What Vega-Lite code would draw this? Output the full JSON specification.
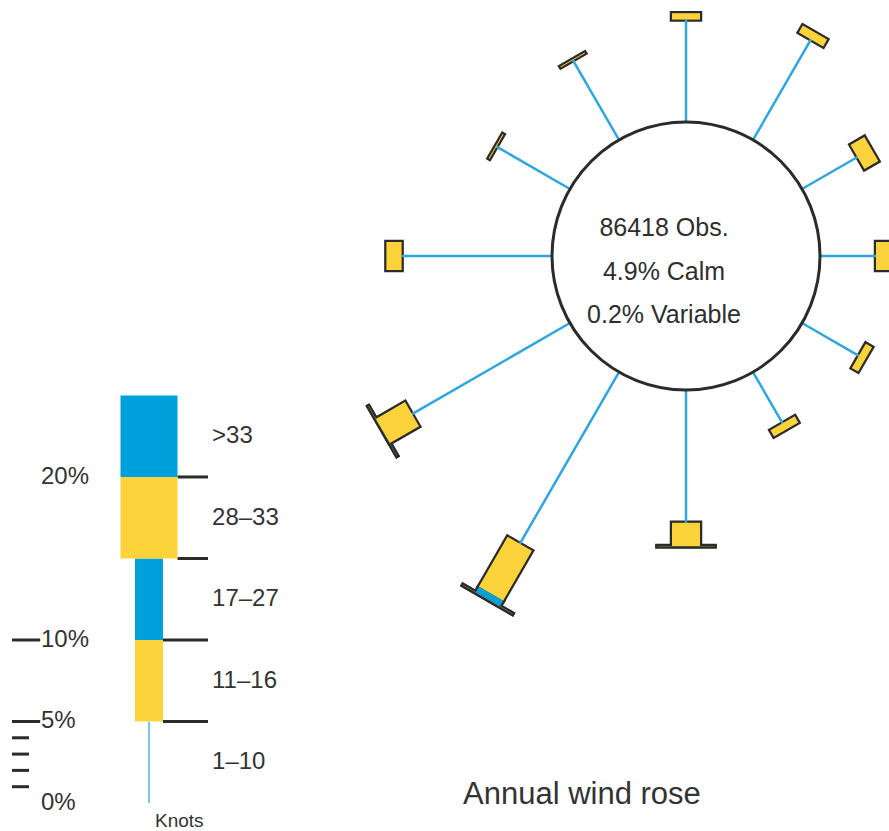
{
  "$schema": "https://vega.github.io/schema/vega-lite/v6.json",
  "width": 889,
  "height": 831,
  "autosize": "none",
  "padding": 0,
  "background": "white",
  "config": {"view": {"stroke": null}, "font": "Liberation Sans"},
  "title": {"text": "Annual wind rose", "orient": "bottom", "anchor": "start", "frame": "group", "offset": -51, "dx": 463, "fontSize": 31, "fontWeight": "normal", "color": "#333333", "font": "Liberation Sans"},
  "datasets": {
    "rose": [
      {"dir": 0, "bin": "1–10", "pct": 6.4}, {"dir": 0, "bin": "11–16", "pct": 0.4},
      {"dir": 30, "bin": "1–10", "pct": 7.25}, {"dir": 30, "bin": "11–16", "pct": 0.5},
      {"dir": 60, "bin": "1–10", "pct": 4.0}, {"dir": 60, "bin": "11–16", "pct": 1.0},
      {"dir": 90, "bin": "1–10", "pct": 3.5}, {"dir": 90, "bin": "11–16", "pct": 1.3},
      {"dir": 120, "bin": "1–10", "pct": 4.1}, {"dir": 120, "bin": "11–16", "pct": 0.45},
      {"dir": 150, "bin": "1–10", "pct": 3.7}, {"dir": 150, "bin": "11–16", "pct": 0.45},
      {"dir": 180, "bin": "1–10", "pct": 8.3}, {"dir": 180, "bin": "11–16", "pct": 1.45}, {"dir": 180, "bin": "28–33", "pct": 0.01}, {"dir": 180, "bin": ">33", "pct": 0.01},
      {"dir": 210, "bin": "1–10", "pct": 12.4}, {"dir": 210, "bin": "11–16", "pct": 3.6}, {"dir": 210, "bin": "17–27", "pct": 0.4}, {"dir": 210, "bin": "28–33", "pct": 0.01}, {"dir": 210, "bin": ">33", "pct": 0.01},
      {"dir": 240, "bin": "1–10", "pct": 11.4}, {"dir": 240, "bin": "11–16", "pct": 2.1}, {"dir": 240, "bin": "28–33", "pct": 0.01}, {"dir": 240, "bin": ">33", "pct": 0.01},
      {"dir": 270, "bin": "1–10", "pct": 9.4}, {"dir": 270, "bin": "11–16", "pct": 0.95},
      {"dir": 300, "bin": "1–10", "pct": 5.3}, {"dir": 300, "bin": "11–16", "pct": 0.06},
      {"dir": 330, "bin": "1–10", "pct": 5.75}, {"dir": 330, "bin": "11–16", "pct": 0.06}
    ],
    "key": [
      {"bin": "1–10", "lo": 0, "hi": 5},
      {"bin": "11–16", "lo": 5, "hi": 10},
      {"bin": "17–27", "lo": 10, "hi": 15},
      {"bin": "28–33", "lo": 15, "hi": 20},
      {"bin": ">33", "lo": 20, "hi": 25}
    ],
    "scaleValues": [{"v": 0}, {"v": 1}, {"v": 2}, {"v": 3}, {"v": 4}, {"v": 5}, {"v": 10}, {"v": 20}],
    "summary": [{"obs": 86418, "calm": 4.9, "variable": 0.2}]
  },
  "layer": [
    {
      "layer": [
        {
          "data": {"name": "rose"},
          "transform": [
            {"calculate": "indexof(['1–10','11–16','17–27','28–33','>33'], datum.bin)", "as": "k"},
            {"window": [{"op": "sum", "field": "pct", "as": "cum"}], "groupby": ["dir"], "sort": [{"field": "k", "order": "ascending"}], "frame": [null, 0]},
            {"calculate": "8.375 + datum.cum - datum.pct - 0.14", "as": "r0"},
            {"calculate": "8.375 + datum.cum + 0.14", "as": "r1"},
            {"calculate": "sin(datum.dir * PI / 180)", "as": "s"},
            {"calculate": "cos(datum.dir * PI / 180)", "as": "c"},
            {"filter": "datum.k >= 1 && datum.pct > 0"},
            {"calculate": "datum.r0 * datum.s", "as": "x0"},
            {"calculate": "datum.r0 * datum.c", "as": "y0"},
            {"calculate": "datum.r1 * datum.s", "as": "x1"},
            {"calculate": "datum.r1 * datum.c", "as": "y1"}
          ],
          "mark": {"type": "rule", "color": "#2b2b2b", "strokeCap": "butt"},
          "encoding": {
            "x": {"field": "x0", "type": "quantitative", "scale": {"domain": [-42.875, 12.6875], "nice": false, "zero": false}, "axis": null},
            "y": {"field": "y0", "type": "quantitative", "scale": {"domain": [-35.9375, 16], "nice": false, "zero": false}, "axis": null},
            "x2": {"field": "x1"},
            "y2": {"field": "y1"},
            "strokeWidth": {"condition": {"test": "datum.k <= 2", "value": 32.5}, "value": 61.5}
          }
        },
        {
          "data": {"name": "rose"},
          "transform": [
            {"calculate": "indexof(['1–10','11–16','17–27','28–33','>33'], datum.bin)", "as": "k"},
            {"window": [{"op": "sum", "field": "pct", "as": "cum"}], "groupby": ["dir"], "sort": [{"field": "k", "order": "ascending"}], "frame": [null, 0]},
            {"calculate": "8.375 + datum.cum - datum.pct", "as": "r0"},
            {"calculate": "8.375 + datum.cum", "as": "r1"},
            {"calculate": "sin(datum.dir * PI / 180)", "as": "s"},
            {"calculate": "cos(datum.dir * PI / 180)", "as": "c"},
            {"calculate": "datum.r0 * datum.s", "as": "x0"},
            {"calculate": "datum.r0 * datum.c", "as": "y0"},
            {"calculate": "datum.r1 * datum.s", "as": "x1"},
            {"calculate": "datum.r1 * datum.c", "as": "y1"}
          ],
          "mark": {"type": "rule", "strokeCap": "butt"},
          "encoding": {
            "x": {"field": "x0", "type": "quantitative", "scale": {"domain": [-42.875, 12.6875], "nice": false, "zero": false}, "axis": null},
            "y": {"field": "y0", "type": "quantitative", "scale": {"domain": [-35.9375, 16], "nice": false, "zero": false}, "axis": null},
            "x2": {"field": "x1"},
            "y2": {"field": "y1"},
            "color": {"field": "bin", "type": "nominal", "scale": {"domain": ["1–10", "11–16", "17–27", "28–33", ">33"], "range": ["#2fa6df", "#fcd33a", "#00a0dc", "#fcd33a", "#00a0dc"]}, "legend": null},
            "strokeWidth": {"condition": [{"test": "datum.k == 0", "value": 2.5}, {"test": "datum.k <= 2", "value": 28}], "value": 57}
          }
        },
        {
          "data": {"name": "summary"},
          "mark": {"type": "point", "shape": "circle", "size": 71824, "filled": true, "fill": "white", "stroke": "#2b2b2b", "strokeWidth": 3, "opacity": 1},
          "encoding": {
            "x": {"datum": 0, "type": "quantitative", "scale": {"domain": [-42.875, 12.6875], "nice": false, "zero": false}, "axis": null},
            "y": {"datum": 0, "type": "quantitative", "scale": {"domain": [-35.9375, 16], "nice": false, "zero": false}, "axis": null}
          }
        },
        {
          "data": {"name": "summary"},
          "transform": [
            {"calculate": "[format(datum.obs, 'd') + ' Obs.', format(datum.calm, '.1f') + '% Calm', format(datum.variable, '.1f') + '% Variable']", "as": "lines"}
          ],
          "mark": {"type": "text", "align": "center", "baseline": "middle", "fontSize": 25, "lineHeight": 43.5, "dx": -22, "dy": -28, "color": "#2e2e2e", "font": "Liberation Sans"},
          "encoding": {
            "x": {"datum": 0, "type": "quantitative", "scale": {"domain": [-42.875, 12.6875], "nice": false, "zero": false}, "axis": null},
            "y": {"datum": 0, "type": "quantitative", "scale": {"domain": [-35.9375, 16], "nice": false, "zero": false}, "axis": null},
            "text": {"field": "lines"}
          }
        }
      ]
    },
    {
      "layer": [
        {
          "data": {"name": "key"},
          "transform": [
            {"calculate": "indexof(['1–10','11–16','17–27','28–33','>33'], datum.bin)", "as": "k"},
            {"filter": "datum.k >= 1 && datum.k <= 4"},
            {"calculate": "datum.k >= 3 ? 1.78 : 0.875", "as": "start"}
          ],
          "mark": {"type": "rule", "color": "#2b2b2b", "strokeWidth": 3},
          "encoding": {
            "x": {"field": "start", "type": "quantitative", "scale": {"domain": [-9.3125, 46.25], "nice": false, "zero": false}, "axis": null},
            "x2": {"datum": 3.6875},
            "y": {"field": "lo", "type": "quantitative", "scale": {"domain": [-1.718, 49.26], "nice": false, "zero": false}, "axis": null}
          }
        },
        {
          "data": {"name": "key"},
          "transform": [
            {"calculate": "indexof(['1–10','11–16','17–27','28–33','>33'], datum.bin)", "as": "k"}
          ],
          "mark": {"type": "rule", "strokeCap": "butt"},
          "encoding": {
            "x": {"datum": 0, "type": "quantitative", "scale": {"domain": [-9.3125, 46.25], "nice": false, "zero": false}, "axis": null},
            "y": {"field": "lo", "type": "quantitative", "scale": {"domain": [-1.718, 49.26], "nice": false, "zero": false}, "axis": null},
            "y2": {"field": "hi"},
            "color": {"field": "bin", "type": "nominal", "scale": {"domain": ["1–10", "11–16", "17–27", "28–33", ">33"], "range": ["#7cc6ee", "#fcd33a", "#00a0dc", "#fcd33a", "#00a0dc"]}, "legend": null},
            "strokeWidth": {"condition": [{"test": "datum.k == 0", "value": 2}, {"test": "datum.k <= 2", "value": 28}], "value": 57}
          }
        },
        {
          "data": {"name": "scaleValues"},
          "transform": [
            {"filter": "datum.v > 0 && datum.v < 20"},
            {"calculate": "datum.v >= 5 ? -6.8 : -7.5", "as": "tickEnd"}
          ],
          "mark": {"type": "rule", "color": "#2b2b2b", "strokeWidth": 3},
          "encoding": {
            "x": {"field": "tickEnd", "type": "quantitative", "scale": {"domain": [-9.3125, 46.25], "nice": false, "zero": false}, "axis": null},
            "x2": {"datum": -8.5625},
            "y": {"field": "v", "type": "quantitative", "scale": {"domain": [-1.718, 49.26], "nice": false, "zero": false}, "axis": null}
          }
        },
        {
          "data": {"name": "scaleValues"},
          "transform": [
            {"filter": "datum.v == 0 || datum.v >= 5"},
            {"calculate": "datum.v + '%'", "as": "label"}
          ],
          "mark": {"type": "text", "align": "left", "baseline": "middle", "fontSize": 24, "color": "#333333", "font": "Liberation Sans"},
          "encoding": {
            "x": {"datum": -6.75, "type": "quantitative", "scale": {"domain": [-9.3125, 46.25], "nice": false, "zero": false}, "axis": null},
            "y": {"field": "v", "type": "quantitative", "scale": {"domain": [-1.718, 49.26], "nice": false, "zero": false}, "axis": null},
            "text": {"field": "label"}
          }
        },
        {
          "data": {"name": "key"},
          "transform": [{"calculate": "(datum.lo + datum.hi) / 2", "as": "mid"}],
          "mark": {"type": "text", "align": "left", "baseline": "middle", "fontSize": 24, "color": "#333333", "font": "Liberation Sans"},
          "encoding": {
            "x": {"datum": 3.94, "type": "quantitative", "scale": {"domain": [-9.3125, 46.25], "nice": false, "zero": false}, "axis": null},
            "y": {"field": "mid", "type": "quantitative", "scale": {"domain": [-1.718, 49.26], "nice": false, "zero": false}, "axis": null},
            "text": {"field": "bin"}
          }
        },
        {
          "data": {"values": [{"unit": "Knots"}]},
          "mark": {"type": "text", "align": "left", "baseline": "middle", "fontSize": 19, "dx": 6, "dy": 18, "color": "#333333", "font": "Liberation Sans"},
          "encoding": {
            "x": {"datum": 0, "type": "quantitative", "scale": {"domain": [-9.3125, 46.25], "nice": false, "zero": false}, "axis": null},
            "y": {"datum": 0, "type": "quantitative", "scale": {"domain": [-1.718, 49.26], "nice": false, "zero": false}, "axis": null},
            "text": {"field": "unit"}
          }
        }
      ]
    }
  ],
  "resolve": {"scale": {"x": "independent", "y": "independent", "color": "independent"}, "axis": {"x": "independent", "y": "independent"}}
}
